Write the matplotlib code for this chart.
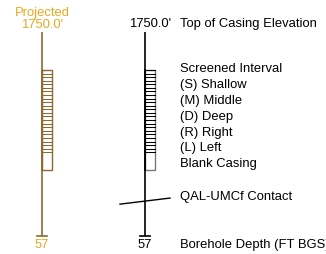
import matplotlib
matplotlib.use("Agg")
import matplotlib.pyplot as plt
import numpy as np

plt.rcParams['font.family'] = ['Liberation Sans', 'DejaVu Sans']

# well data (depths in ft below top of casing)
elevation = "1750.0'"
total_depth = 57
screen_top = 10.6
screen_bottom = 33.8
blank_bottom = 38.5
contact_depth = [48.1, 46.4]
legend_labels = ["Screened Interval", "(S) Shallow", "(M) Middle", "(D) Deep",
                 "(R) Right", "(L) Left", "Blank Casing"]

gold = '#E8A820'
brown = '#8C6A32'

fig = plt.figure(figsize=(3.26, 2.54), dpi=100)
ax = fig.add_axes([0, 0, 1, 1])
px_per_ft = 204 / total_depth
ax.set_xlim(0, 326)
ax.set_ylim(total_depth + 18 / px_per_ft, -32 / px_per_ft)
ax.axis('off')


def py(p):
    # pixel row -> depth
    return (p - 32) / px_per_ft


def draw_well(x, col, edge):
    ax.plot([x, x], [0, total_depth], color=col, lw=1.2, solid_capstyle='butt')
    ax.plot([x - 5, x + 5], [total_depth, total_depth], color=col, lw=1.2)
    w = 10
    ax.add_patch(plt.Rectangle((x, screen_top), w, blank_bottom - screen_top,
                               fill=False, edgecolor=edge, lw=1.0))
    for d in np.arange(screen_top, screen_bottom + 0.01, 1.0):
        ax.plot([x, x + w], [d, d], color=col, lw=0.75)
    ax.plot([x, x], [screen_top, blank_bottom], color=col, lw=1.2)


draw_well(42, brown, brown)
draw_well(145, 'black', '#777777')

ax.plot([120, 170], contact_depth, color='black', lw=1.0)

fs = 9.4
ax.text(42, py(13), "Projected", color=gold, fontsize=fs, ha='center', va='center')
ax.text(42, py(25), elevation, color=gold, fontsize=fs, ha='center', va='center')
ax.text(150, py(24), elevation, color='black', fontsize=fs, ha='center', va='center')
ax.text(42, py(245), str(total_depth), color=gold, fontsize=fs, ha='center', va='center')
ax.text(145, py(245), str(total_depth), color='black', fontsize=fs, ha='center', va='center')

tx = 180
ax.text(tx, py(24), "Top of Casing Elevation", fontsize=fs, va='center')
for i, lab in enumerate(legend_labels):
    ax.text(tx, py(69 + 15.9 * i), lab, fontsize=fs, va='center')
ax.text(tx, py(197), "QAL-UMCf Contact", fontsize=fs, va='center')
ax.text(tx, py(245), "Borehole Depth (FT BGS)", fontsize=fs, va='center')

fig.savefig("out.png", dpi=100)
